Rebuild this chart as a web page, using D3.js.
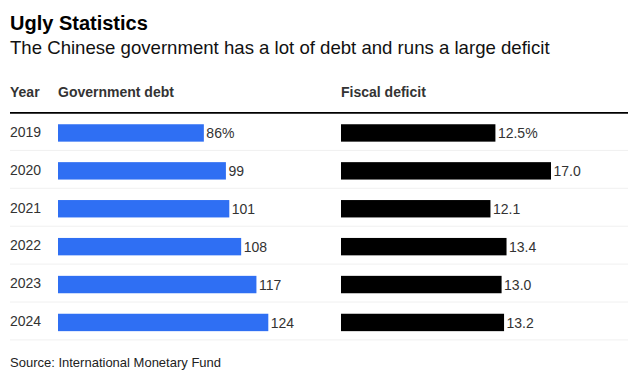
<!DOCTYPE html>
<html><head><meta charset="utf-8">
<script src="https://cdn.jsdelivr.net/npm/d3@7"></script>
<style>
html,body{margin:0;padding:0;background:#fff;}
svg{display:block;font-family:"Liberation Sans",Arial,Helvetica,sans-serif;}
</style></head>
<body>
<svg id="chart" width="638" height="376"></svg>
<script>
const years = ["2019","2020","2021","2022","2023","2024"];
const debt = [86, 99, 101, 108, 117, 124];
const deficit = [12.5, 17.0, 12.1, 13.4, 13.0, 13.2];
const debtLabels = ["86%","99","101","108","117","124"];
const deficitLabels = ["12.5%","17.0","12.1","13.4","13.0","13.2"];

const svg = d3.select("#chart");

svg.append("text").attr("x",10).attr("y",29.5)
  .attr("font-size",20).attr("font-weight","bold").attr("fill","#000")
  .text("Ugly Statistics");
svg.append("text").attr("x",10).attr("y",54.2)
  .attr("font-size",18.6).attr("fill","#111")
  .text("The Chinese government has a lot of debt and runs a large deficit");

// headers
const hdrY = 96.7;
svg.append("text").attr("x",10).attr("y",hdrY).attr("font-size",14).attr("font-weight","bold").attr("fill","#333").text("Year");
svg.append("text").attr("x",58).attr("y",hdrY).attr("font-size",14).attr("font-weight","bold").attr("fill","#333").text("Government debt");
svg.append("text").attr("x",341).attr("y",hdrY).attr("font-size",14).attr("font-weight","bold").attr("fill","#333").text("Fiscal deficit");

const y = d3.scaleBand().domain(years).range([114, 341.4]);
const step = y.step();
const barH = 17.4;

const xDebt = d3.scaleLinear().domain([0, 124]).range([58, 268.3]);
const xDef = d3.scaleLinear().domain([0, 17]).range([341, 551]);

// separators
svg.selectAll("line.sep").data(years).join("line")
  .attr("class","sep")
  .attr("x1",10).attr("x2",628)
  .attr("y1",d=>y(d)+step-1.5).attr("y2",d=>y(d)+step-1.5)
  .attr("stroke","#f0f0f0").attr("stroke-width",1);

// header rule
svg.append("line").attr("x1",10).attr("x2",628).attr("y1",112.9).attr("y2",112.9)
  .attr("stroke","#000").attr("stroke-width",1.7);

const rows = years.map((yr,i)=>({yr, debt:debt[i], def:deficit[i], dl:debtLabels[i], fl:deficitLabels[i]}));
const cy = d => y(d.yr) + step/2;

svg.selectAll("text.year").data(rows).join("text").attr("class","year")
  .attr("x",10).attr("y",d=>cy(d)+3.8).attr("font-size",14).attr("fill","#333").text(d=>d.yr);

svg.selectAll("rect.debt").data(rows).join("rect").attr("class","debt")
  .attr("x",xDebt(0)).attr("y",d=>cy(d)-barH/2).attr("height",barH)
  .attr("width",d=>xDebt(d.debt)-xDebt(0)).attr("fill","#2f6ff3");
svg.selectAll("text.dl").data(rows).join("text").attr("class","dl")
  .attr("x",d=>xDebt(d.debt)+2.5).attr("y",d=>cy(d)+5.2).attr("font-size",14).attr("fill","#333").text(d=>d.dl);

svg.selectAll("rect.def").data(rows).join("rect").attr("class","def")
  .attr("x",xDef(0)).attr("y",d=>cy(d)-barH/2).attr("height",barH)
  .attr("width",d=>xDef(d.def)-xDef(0)).attr("fill","#000");
svg.selectAll("text.fl").data(rows).join("text").attr("class","fl")
  .attr("x",d=>xDef(d.def)+2.5).attr("y",d=>cy(d)+5.2).attr("font-size",14).attr("fill","#333").text(d=>d.fl);

svg.append("text").attr("x",10).attr("y",367).attr("font-size",13).attr("fill","#222")
  .text("Source: International Monetary Fund");
</script>
</body></html>
